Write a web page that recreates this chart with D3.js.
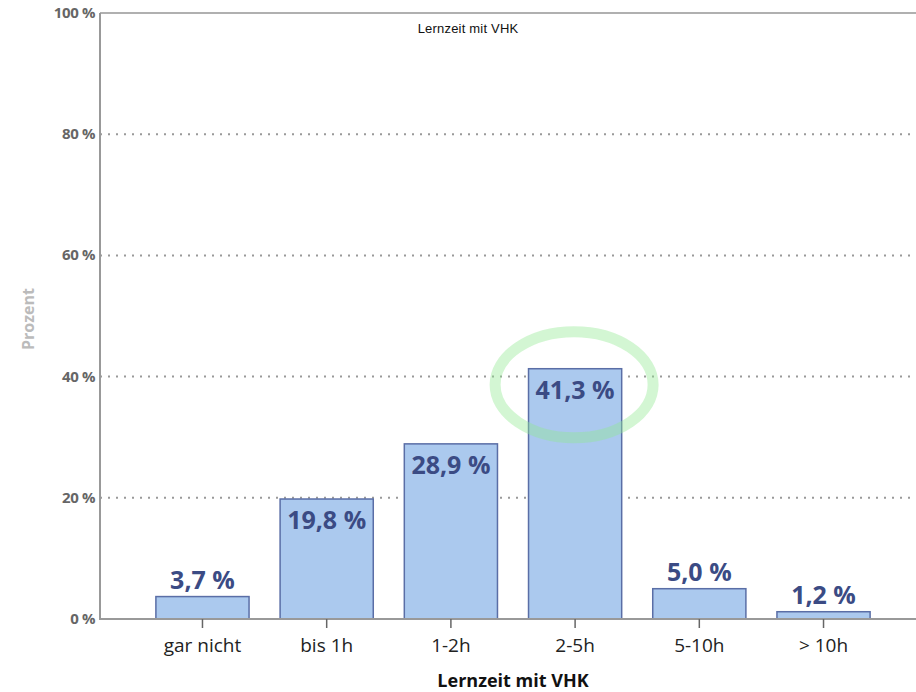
<!DOCTYPE html>
<html>
<head>
<meta charset="utf-8">
<script src="https://cdn.jsdelivr.net/npm/d3@7"></script>
<style>
  body { margin: 0; background: #fff; }
  svg { display: block; }
</style>
</head>
<body>
<div id="chart"></div>
<script>
const categories = ["gar nicht", "bis 1h", "1-2h", "2-5h", "5-10h", "> 10h"];
const values = [3.7, 19.8, 28.9, 41.3, 5.0, 1.2];
const yTicks = [0, 20, 40, 60, 80, 100];
const highlight = "2-5h";

const width = 916, height = 692;
const plotLeft = 100, plotTop = 13, plotBottom = 619;

const svg = d3.select("#chart").append("svg")
    .attr("width", width)
    .attr("height", height);

const x = d3.scaleBand()
    .domain(categories)
    .range([plotLeft, 926])
    .paddingInner(0.25)
    .paddingOuter(0.45);

const y = d3.scaleLinear()
    .domain([0, 100])
    .range([plotBottom, plotTop]);

const fmt = v => v.toFixed(1).replace(".", ",") + " %";

// gridlines
svg.append("g").selectAll("line")
    .data(yTicks.filter(t => t > 0 && t < 100))
    .enter().append("line")
    .attr("x1", plotLeft).attr("x2", width)
    .attr("y1", d => y(d)).attr("y2", d => y(d))
    .attr("stroke", "#999")
    .attr("stroke-width", 2)
    .attr("stroke-dasharray", "2,6");

svg.append("line")
    .attr("x1", plotLeft).attr("x2", width)
    .attr("y1", y(100)).attr("y2", y(100))
    .attr("stroke", "#b0b0b0")
    .attr("stroke-width", 2);

// y tick labels
svg.append("g").selectAll("text")
    .data(yTicks)
    .enter().append("text")
    .attr("x", 95)
    .attr("y", d => y(d) + 5)
    .attr("text-anchor", "end")
    .style("font-family", "'Open Sans', sans-serif")
    .style("font-weight", "bold")
    .style("font-size", "15px")
    .style("letter-spacing", "-0.4px")
    .style("fill", "#666")
    .text(d => d + " %");

// bars
svg.append("g").selectAll("rect")
    .data(categories)
    .enter().append("rect")
    .attr("x", d => x(d))
    .attr("y", (d, i) => y(values[i]))
    .attr("width", x.bandwidth())
    .attr("height", (d, i) => y(0) - y(values[i]))
    .attr("fill", "#abc9ee")
    .attr("stroke", "#5a6ea6")
    .attr("stroke-width", 1.5);

// bar labels
svg.append("g").selectAll("text")
    .data(categories)
    .enter().append("text")
    .attr("x", d => x(d) + x.bandwidth() / 2)
    .attr("y", (d, i) => values[i] > 10 ? y(values[i]) + 30 : y(values[i]) - 8)
    .attr("text-anchor", "middle")
    .style("font-family", "'Open Sans', sans-serif")
    .style("font-weight", "bold")
    .style("font-size", "25px")
    .style("fill", "#3b4b84")
    .text((d, i) => fmt(values[i]));

// axes lines
svg.append("line")
    .attr("x1", plotLeft).attr("x2", plotLeft)
    .attr("y1", plotTop).attr("y2", plotBottom + 1)
    .attr("stroke", "#999").attr("stroke-width", 2);

svg.append("line")
    .attr("x1", plotLeft).attr("x2", width)
    .attr("y1", plotBottom).attr("y2", plotBottom)
    .attr("stroke", "#999").attr("stroke-width", 2);

// x ticks + labels
const xt = svg.append("g").selectAll("g")
    .data(categories)
    .enter().append("g")
    .attr("transform", d => `translate(${x(d) + x.bandwidth() / 2},${plotBottom})`);

xt.append("line")
    .attr("y1", 0).attr("y2", 9)
    .attr("stroke", "#666").attr("stroke-width", 1.5);

xt.append("text")
    .attr("y", 33)
    .attr("text-anchor", "middle")
    .style("font-family", "'Open Sans', sans-serif")
    .style("font-size", "19px")
    .style("fill", "#222")
    .text(d => d);

// axis titles
svg.append("text")
    .attr("x", 513).attr("y", 687)
    .attr("text-anchor", "middle")
    .style("font-family", "'Open Sans', sans-serif")
    .style("font-weight", "bold")
    .style("font-size", "18px")
    .style("fill", "#111")
    .text("Lernzeit mit VHK");

svg.append("text")
    .attr("transform", `translate(34,319) rotate(-90)`)
    .attr("text-anchor", "middle")
    .style("font-family", "'Open Sans', sans-serif")
    .style("font-weight", "bold")
    .style("font-size", "16px")
    .style("fill", "#bbb")
    .text("Prozent");

// small title
svg.append("text")
    .attr("x", 468).attr("y", 33)
    .attr("text-anchor", "middle")
    .style("font-family", "'Liberation Sans', Arial, sans-serif")
    .style("font-size", "13px")
    .style("letter-spacing", "0.2px")
    .style("fill", "#111")
    .text("Lernzeit mit VHK");

// highlight ellipse
const hi = categories.indexOf(highlight);
svg.append("ellipse")
    .attr("cx", x(highlight) + x.bandwidth() / 2 - 1)
    .attr("cy", y(values[hi]) + 16)
    .attr("rx", 79)
    .attr("ry", 53)
    .attr("fill", "none")
    .attr("stroke", "#90e890")
    .attr("stroke-opacity", 0.4)
    .attr("stroke-width", 11);
</script>
</body>
</html>
